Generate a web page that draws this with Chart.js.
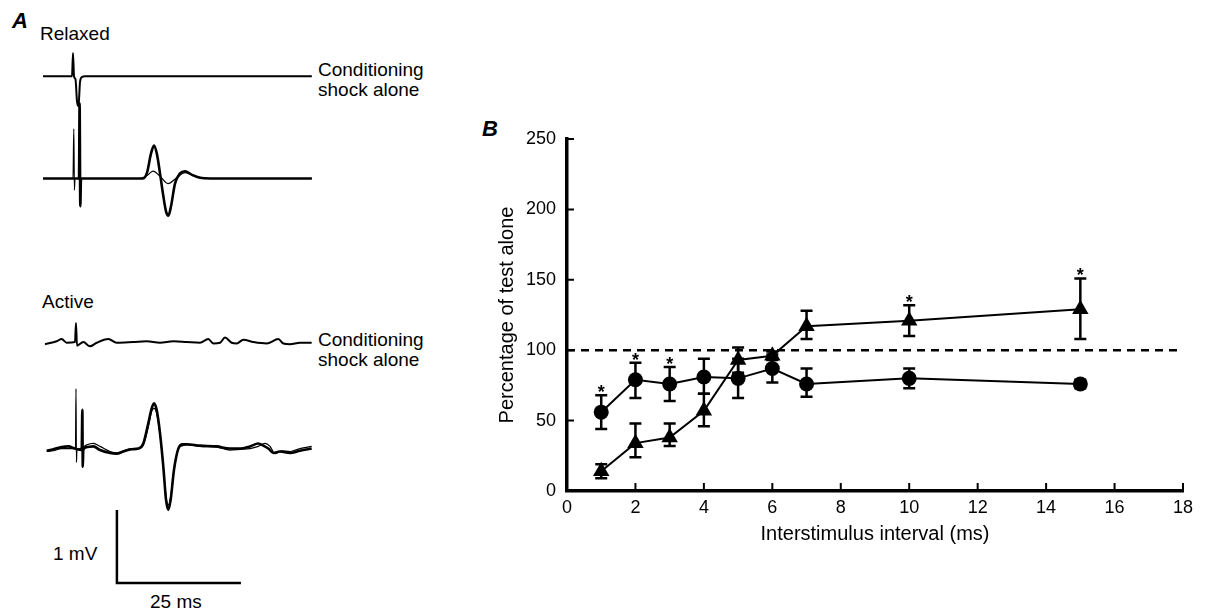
<!DOCTYPE html>
<html>
<head>
<meta charset="utf-8">
<script src="https://cdn.jsdelivr.net/npm/chart.js@4/dist/chart.umd.min.js"></script>
<style>
  html, body { margin: 0; padding: 0; background: #fff; }
  body { width: 1206px; height: 615px; position: relative; overflow: hidden;
         font-family: "Liberation Sans", Arial, Helvetica, sans-serif; color: #000; }
  canvas { position: absolute; }
  .lbl { position: absolute; white-space: nowrap; font-size: 19px; line-height: 20px; }
  .panel { position: absolute; font-size: 22px; line-height: 22px; font-weight: bold; font-style: italic; }
</style>
</head>
<body>
<div class="panel" style="left:12px;top:10px;">A</div>
<div class="lbl" style="left:40px;top:24px;">Relaxed</div>
<div class="lbl" style="left:318px;top:60px;">Conditioning<br>shock alone</div>
<div class="lbl" style="left:42px;top:292px;">Active</div>
<div class="lbl" style="left:318px;top:330px;">Conditioning<br>shock alone</div>
<div class="lbl" style="left:53px;top:544px;">1 mV</div>
<div class="lbl" style="left:150px;top:592px;">25 ms</div>
<div class="panel" style="left:482px;top:118px;">B</div>

<canvas id="traces" width="440" height="615" style="left:0;top:0;"></canvas>
<canvas id="isiChart" width="736" height="480" style="left:470px;top:100px;"></canvas>

<script>
// ---- panel A: EMG traces (time in ms, amplitude in mV) ----
const relaxedCondT = [0, 5.85, 6.05, 6.25, 6.55, 6.85, 7.16, 7.46, 7.86, 8.47, 54.2];
const relaxedCondV = [0, 0, 0.32, 0, -0.04, -0.34, -0.41, -0.08, -0.01, 0, 0];

const relaxedThinT = [0, 6.05, 6.21, 6.33, 6.45, 19.56, 20.97, 22.18, 23.59, 25.2, 26.81, 28.63, 30.65, 33.67, 54.2];
const relaxedThinV = [0, 0, 0.68, -0.16, 0, 0, 0.04, 0.10, 0.03, -0.07, 0, 0.08, 0.03, 0, 0];

const relaxedThickT = [0, 7.26, 7.38, 7.52, 7.66, 20.16, 20.97, 21.77, 22.38, 22.98, 23.59, 24.19, 24.8, 25.27, 25.81, 26.61, 27.62, 28.63, 30.04, 31.65, 33.67, 54.2];
const relaxedThickV = [0, 0, 1.03, -0.38, 0, 0, 0.08, 0.34, 0.45, 0.33, 0.07, -0.21, -0.45, -0.51, -0.38, -0.07, 0.07, 0.10, 0.05, 0.01, 0, 0];

const activeCondT = [0.4, 2.76, 3.76, 4.77, 6.45, 6.65, 6.85, 8.13, 9.48, 10.82, 13.17, 14.85, 18.21, 20.9, 23.59, 26.28, 28.97, 31.65, 33.33, 34.34, 35.69, 36.69, 38.04, 39.05, 40.39, 42.41, 45.09, 47.45, 48.45, 49.8, 51.81, 54.17];
const activeCondV = [-0.02, 0.02, 0.05, 0, 0.01, 0.27, -0.04, 0.01, -0.05, 0, 0.05, 0, 0.01, 0.02, 0, 0.02, 0.01, 0, 0.05, -0.01, 0, 0.07, 0, -0.01, 0.04, 0.01, -0.01, 0.05, -0.01, -0.02, 0, 0];

const activeThinT = [0.74, 2.08, 3.76, 5.11, 6.55, 6.65, 6.74, 6.84, 7.46, 8.8, 10.15, 11.49, 13.51, 14.85, 16.2, 17.88, 19.22, 20.23, 21.24, 21.91, 22.38, 22.92, 23.59, 24.26, 24.8, 25.27, 25.74, 26.41, 27.28, 28.16, 28.97, 31.65, 35.01, 37.7, 39.72, 41.73, 43.41, 44.76, 45.77, 46.77, 48.12, 49.8, 51.81, 54.17];
const activeThinV = [-0.02, -0.01, 0.02, 0.02, 0.02, 0.84, -0.17, 0, 0.02, 0.07, 0.09, 0.05, -0.02, -0.04, -0.01, 0.02, 0.02, 0.07, 0.32, 0.53, 0.57, 0.50, 0.21, -0.23, -0.64, -0.75, -0.64, -0.27, 0.01, 0.06, 0.07, 0.05, 0.04, 0, 0.01, 0.02, 0.05, 0.09, 0.05, -0.05, -0.01, -0.02, 0.02, 0.05];

const activeThickT = [0.74, 2.08, 3.76, 5.11, 6.45, 7.8, 7.93, 8.02, 8.12, 8.8, 10.15, 11.49, 13.51, 14.85, 16.2, 17.88, 19.22, 20.23, 21.24, 21.91, 22.38, 22.92, 23.59, 24.26, 24.8, 25.27, 25.74, 26.41, 27.28, 28.16, 28.97, 31.65, 35.01, 37.7, 39.72, 41.73, 43.41, 44.42, 45.43, 46.44, 47.78, 49.8, 51.81, 54.17];
const activeThickV = [-0.01, 0.01, 0.04, 0.05, 0.02, 0, 0.55, -0.23, 0, 0.04, 0.05, 0, -0.04, -0.05, -0.02, 0.01, 0.02, 0.09, 0.37, 0.57, 0.64, 0.55, 0.23, -0.23, -0.68, -0.82, -0.68, -0.27, 0.02, 0.08, 0.08, 0.06, 0.05, 0.02, 0.02, 0.05, 0.09, 0.06, 0.02, -0.04, -0.02, -0.04, -0.01, 0.02];

// baseline of each trace on the common mV axis
const baseRelaxedCond = 7.38;
const baseRelaxedTest = 5.98;
const baseActiveCond = 3.73;
const baseActiveTest = 2.26;

// calibration bar: 1 mV / 25 ms
const scaleBarT = [14.9, 14.9, 39.9];
const scaleBarV = [1.44, 0.44, 0.44];

// ---- panel B: percentage of test alone vs interstimulus interval ----
const isi = [1, 2, 3, 4, 5, 6, 7, 10, 15];
const circleMean = [56, 79, 76, 81, 80, 87, 76, 80, 76];
const circleLo   = [44, 66, 64, 69, 66, 77, 67, 73, 73];
const circleHi   = [68, 91, 88, 94, 94, 97, 87, 87, 79];
const circleSig  = [1, 1, 1, 0, 0, 0, 0, 0, 0];
const triangleMean = [14, 34, 38, 57, 93, 96, 117, 121, 129];
const triangleLo   = [9, 24, 32, 46, 84, 93, 108, 110, 108];
const triangleHi   = [19, 48, 48, 69, 102, 99, 128, 132, 151];
const triangleSig  = [0, 0, 0, 0, 0, 0, 0, 1, 1];
const refX = [0, 18];
const refY = [100, 100];
const xTicks = [0, 18, 2];
const yTicks = [0, 250, 50];

Chart.defaults.font.family = '"Liberation Sans", Arial, Helvetica, sans-serif';
Chart.defaults.color = '#000';

function pts(xs, ys, off) {
  return xs.map((x, i) => ({x: x, y: ys[i] + (off || 0)}));
}

function trace(xs, ys, off, w) {
  return {
    data: pts(xs, ys, off),
    borderColor: '#000',
    borderWidth: w,
    pointRadius: 0,
    cubicInterpolationMode: 'monotone',
    fill: false
  };
}

new Chart(document.getElementById('traces'), {
  type: 'line',
  data: {
    datasets: [
      trace(relaxedCondT, relaxedCondV, baseRelaxedCond, 2),
      trace(relaxedThinT, relaxedThinV, baseRelaxedTest, 1.2),
      trace(relaxedThickT, relaxedThickV, baseRelaxedTest, 2.6),
      trace(activeCondT, activeCondV, baseActiveCond, 2),
      trace(activeThickT, activeThickV, baseActiveTest, 2.6),
      trace(activeThinT, activeThinV, baseActiveTest, 1.2),
      Object.assign(trace(scaleBarT, scaleBarV, 0, 2.5), {cubicInterpolationMode: 'default', tension: 0})
    ]
  },
  options: {
    responsive: false,
    animation: false,
    layout: {padding: 0},
    plugins: {legend: {display: false}, tooltip: {enabled: false}},
    scales: {
      x: {type: 'linear', display: false, min: -8.67, max: 80.04},
      y: {type: 'linear', display: false, min: 0, max: 8.425}
    }
  }
});

// error bars + asterisks
const errorBars = {
  id: 'errorBars',
  beforeDatasetsDraw(chart) {
    const {ctx, scales: {x, y}} = chart;
    ctx.save();
    ctx.strokeStyle = '#000';
    ctx.lineWidth = 2.5;
    [[circleLo, circleHi], [triangleLo, triangleHi]].forEach(([lo, hi]) => {
      isi.forEach((v, i) => {
        const px = x.getPixelForValue(v);
        const t = y.getPixelForValue(hi[i]);
        const b = y.getPixelForValue(lo[i]);
        ctx.beginPath();
        ctx.moveTo(px, t); ctx.lineTo(px, b);
        ctx.moveTo(px - 6, t); ctx.lineTo(px + 6, t);
        ctx.moveTo(px - 6, b); ctx.lineTo(px + 6, b);
        ctx.stroke();
      });
    });
    ctx.restore();
  },
  afterDatasetsDraw(chart) {
    const {ctx, scales: {x, y}} = chart;
    ctx.save();
    ctx.fillStyle = '#000';
    ctx.font = 'bold 18px "Liberation Sans", Arial, sans-serif';
    ctx.textAlign = 'center';
    ctx.textBaseline = 'alphabetic';
    [[circleHi, circleSig], [triangleHi, triangleSig]].forEach(([hi, sig]) => {
      isi.forEach((v, i) => {
        if (!sig[i]) return;
        ctx.fillText('*', x.getPixelForValue(v), y.getPixelForValue(hi[i]) + 3);
      });
    });
    ctx.restore();
  },
  afterDraw(chart) {
    // tick marks point into the plot
    const {ctx, chartArea, scales: {x, y}} = chart;
    ctx.save();
    ctx.strokeStyle = '#000';
    ctx.lineWidth = 2;
    ctx.beginPath();
    x.ticks.forEach(t => {
      const px = x.getPixelForValue(t.value);
      ctx.moveTo(px, chartArea.bottom); ctx.lineTo(px, chartArea.bottom - 8);
    });
    y.ticks.forEach(t => {
      const py = y.getPixelForValue(t.value);
      ctx.moveTo(chartArea.left, py); ctx.lineTo(chartArea.left + 7, py);
    });
    ctx.stroke();
    ctx.restore();
  }
};

new Chart(document.getElementById('isiChart'), {
  type: 'line',
  data: {
    datasets: [
      {
        data: pts(refX, refY),
        borderColor: '#000',
        borderWidth: 2.5,
        borderDash: [8, 6],
        pointRadius: 0
      },
      {
        label: 'circles',
        data: pts(isi, circleMean),
        borderColor: '#000',
        borderWidth: 2,
        pointStyle: 'circle',
        pointRadius: 7.5,
        pointBackgroundColor: '#000',
        pointBorderWidth: 0
      },
      {
        label: 'triangles',
        data: pts(isi, triangleMean),
        borderColor: '#000',
        borderWidth: 2,
        pointStyle: 'triangle',
        pointRadius: 9.5,
        pointBackgroundColor: '#000',
        pointBorderWidth: 0
      }
    ]
  },
  options: {
    responsive: false,
    animation: false,
    layout: {padding: {top: 39, right: 23, left: 0, bottom: 0}},
    plugins: {legend: {display: false}, tooltip: {enabled: false}},
    scales: {
      x: {
        type: 'linear',
        min: xTicks[0], max: xTicks[1],
        ticks: {stepSize: xTicks[2], padding: 6, font: {size: 18}},
        grid: {display: true, drawOnChartArea: false, drawTicks: false},
        border: {display: true, color: '#000', width: 3.5},
        title: {display: true, text: 'Interstimulus interval (ms)', font: {size: 20}, padding: {top: 0, bottom: 34}},
        afterFit(scale) { scale.height = 89; }
      },
      y: {
        type: 'linear',
        min: yTicks[0], max: yTicks[1],
        ticks: {stepSize: yTicks[2], padding: 11, font: {size: 18}},
        grid: {display: true, drawOnChartArea: false, drawTicks: false},
        border: {display: true, color: '#000', width: 3.5},
        title: {display: true, text: 'Percentage of test alone', font: {size: 20}, padding: {top: 25, bottom: 0}},
        afterFit(scale) { scale.width = 97; }
      }
    }
  },
  plugins: [errorBars]
});
</script>
</body>
</html>
